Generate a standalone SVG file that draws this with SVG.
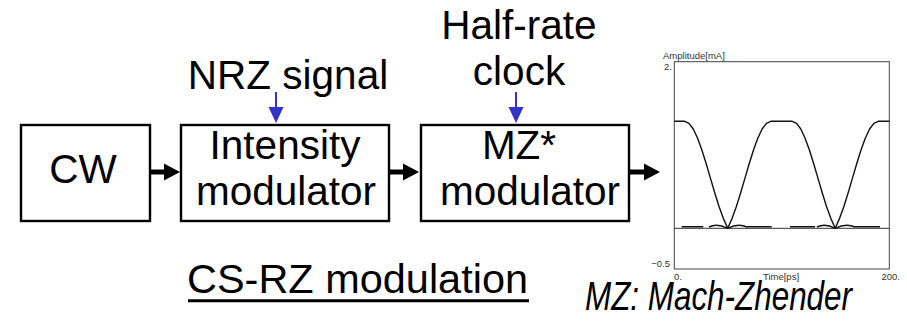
<svg xmlns="http://www.w3.org/2000/svg" width="907" height="321" viewBox="0 0 907 321">
<style>
.box{fill:#fff;stroke:#000;stroke-width:2.4}
.t{font-family:"Liberation Sans",Arial,sans-serif;font-size:40.5px;fill:#000}
.s{font-family:"Liberation Sans",Arial,sans-serif;font-size:9.5px;fill:#333}
.sh{stroke:#000;stroke-width:5;fill:none}
.bl{stroke:#3333cc;stroke-width:2;fill:none}
.wf{fill:none;stroke:#111;stroke-width:1.4;stroke-linejoin:round}
</style>
<rect width="907" height="321" fill="#fff"/>
<g id="labels">
<text class="t" x="288" y="89" text-anchor="middle">NRZ signal</text>
<text class="t" x="519" y="39" text-anchor="middle">Half-rate</text>
<text class="t" x="519" y="85" text-anchor="middle">clock</text>
</g>
<g id="cw">
<rect class="box" x="21" y="125" width="129" height="96"/>
<text class="t" x="83" y="183" text-anchor="middle">CW</text>
</g>
<g id="intensity">
<rect class="box" x="181" y="125" width="208" height="96"/>
<text class="t" x="285" y="159" text-anchor="middle">Intensity</text>
<text class="t" x="286" y="205" text-anchor="middle">modulator</text>
</g>
<g id="mz">
<rect class="box" x="421" y="125" width="208" height="96"/>
<text class="t" x="519" y="159" text-anchor="middle">MZ*</text>
<text class="t" x="530" y="205" text-anchor="middle">modulator</text>
</g>
<g id="connectors">
<line class="sh" x1="150" y1="172" x2="166" y2="172"/>
<polygon points="164,163.5 180,172 164,180.5"/>
<line class="sh" x1="389" y1="172" x2="405" y2="172"/>
<polygon points="403,163.5 419,172 403,180.5"/>
<line class="sh" x1="629" y1="172" x2="646" y2="172"/>
<polygon points="644,163.5 660,172 644,180.5"/>
<line class="bl" x1="276" y1="92" x2="276" y2="108"/>
<polygon points="268.5,107 283.5,107 276,123" fill="#3333cc"/>
<line class="bl" x1="516" y1="92" x2="516" y2="108"/>
<polygon points="508.5,107 523.5,107 516,123" fill="#3333cc"/>
</g>
<g id="title">
<text class="t" x="187" y="293" textLength="341" lengthAdjust="spacingAndGlyphs">CS-RZ modulation</text>
<line x1="188" y1="300.7" x2="529" y2="300.7" stroke="#000" stroke-width="3"/>
<text class="t" x="585" y="310" font-style="italic" font-size="30.5" textLength="267" lengthAdjust="spacingAndGlyphs">MZ: Mach-Zhender</text>
</g>
<g id="plot">
<rect x="674.3" y="61.7" width="215" height="207.3" fill="none" stroke="#444" stroke-width="1"/>
<line x1="674.3" y1="228.3" x2="889.3" y2="228.3" stroke="#333" stroke-width="1"/>
<text class="s" x="663" y="59">Amplitude[mA]</text>
<text class="s" x="672" y="70" text-anchor="end">2.</text>
<text class="s" x="670" y="267" text-anchor="end">−0.5</text>
<text class="s" x="674" y="280">0.</text>
<text class="s" x="781" y="280" text-anchor="middle">Time[ps]</text>
<text class="s" x="900" y="280" text-anchor="end">200.</text>
<polyline class="wf" points="674.3,121.3 684.7,121.3 689.0,123.3 693.3,129.0 697.6,138.2 701.9,150.0 706.2,163.7 710.5,178.4 714.8,193.0 719.1,206.7 723.4,218.6 727.7,228.3 732.0,218.6 736.3,206.7 740.6,193.0 744.9,178.4 749.2,163.7 753.5,150.0 757.8,138.2 762.1,129.0 766.4,123.3 770.7,121.3 792.2,121.3 796.5,123.3 800.8,129.0 805.1,138.2 809.4,150.0 813.7,163.7 818.0,178.4 822.3,193.0 826.6,206.7 830.9,218.6 835.2,228.3 839.5,218.6 843.8,206.7 848.1,193.0 852.4,178.4 856.7,163.7 861.0,150.0 865.3,138.2 869.6,129.0 873.9,123.3 878.2,121.3 889.3,121.3"/>
<path class="wf" d="M681.7,226.8H703.3M747,226.8H771.7M790,226.8H815M855,226.8H880M709,227Q717,223 727.7,228.3Q738,223 747,227M817,227Q825,223 835.2,228.3Q846,223 855,227"/>
</g>
</svg>
